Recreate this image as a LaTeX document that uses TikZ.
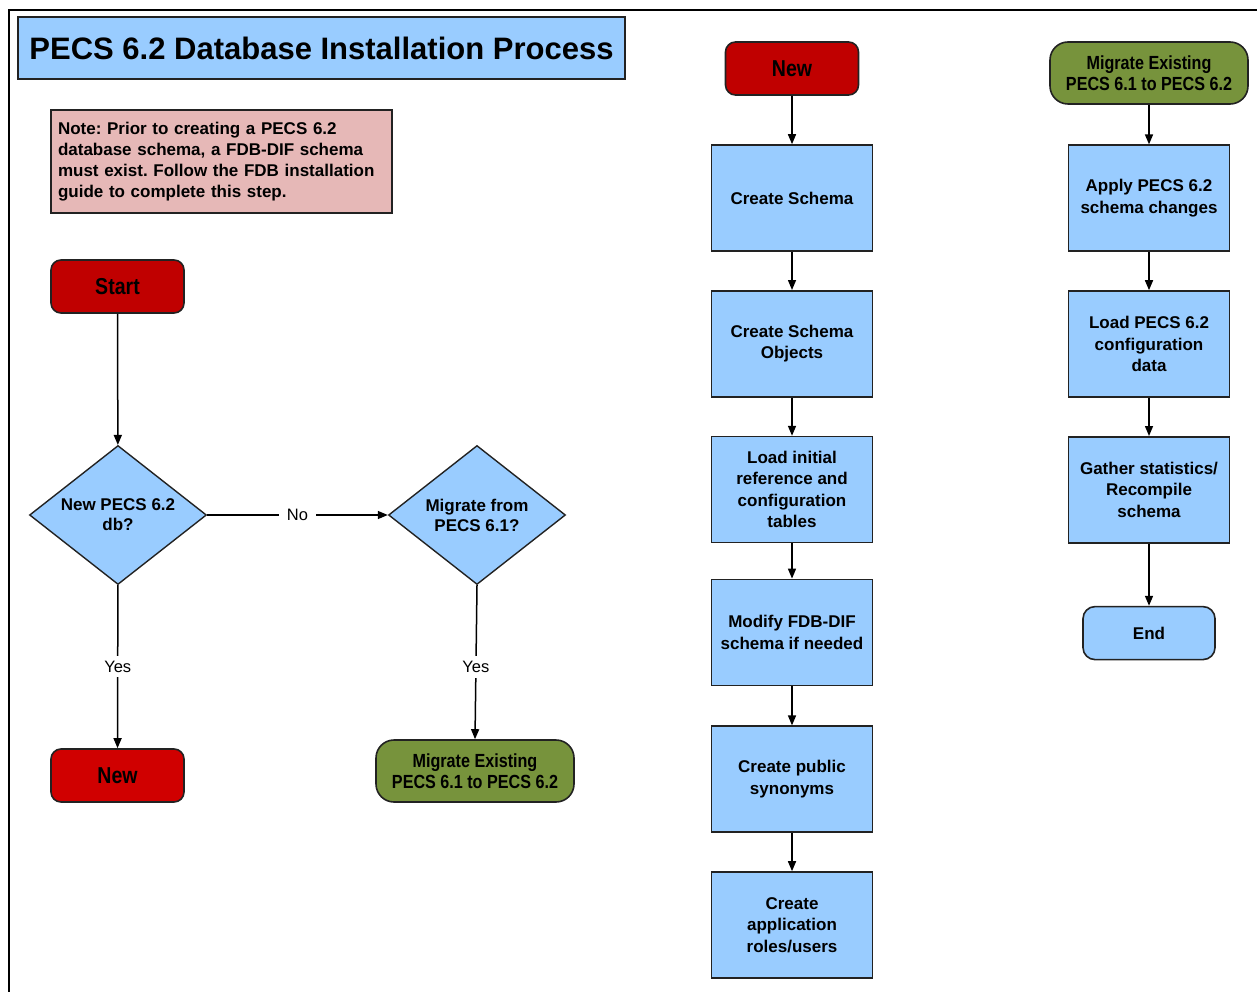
\documentclass[tikz,border=0pt]{standalone}
\usepackage{fontspec}
\setmainfont{Liberation Sans}
\newfontfamily\narrowfont[FakeStretch=0.85]{Liberation Sans}
\usetikzlibrary{positioning,shapes.geometric,arrows.meta}
\definecolor{boxblue}{RGB}{153,204,255}
\definecolor{notepink}{RGB}{230,184,183}
\definecolor{startred}{RGB}{192,0,0}
\definecolor{newred}{RGB}{208,0,0}
\definecolor{migreen}{RGB}{119,147,60}
\definecolor{edgegray}{RGB}{34,34,34}
\frenchspacing

\begin{document}
\begin{tikzpicture}[x=1pt,y=-1pt,
  stepbox/.style={draw=edgegray, line width=1.6pt, fill=boxblue, minimum width=161pt,
    minimum height=106pt, align=center, inner sep=4pt,
    font=\fontsize{17}{21.5}\selectfont\bfseries},
  redterm/.style={draw=edgegray, line width=1.6pt, fill=#1, rounded corners=10pt,
    minimum width=133pt, minimum height=53pt,
    font=\narrowfont\fontsize{23}{26}\selectfont\bfseries},
  greenterm/.style={draw=edgegray, line width=1.6pt, fill=migreen, rounded corners=18pt,
    minimum width=198pt, minimum height=62pt, align=center, inner sep=2pt,
    font=\narrowfont\fontsize{19}{21}\selectfont\bfseries},
  endterm/.style={draw=edgegray, line width=1.6pt, fill=boxblue, rounded corners=12pt,
    minimum width=132pt, minimum height=53pt,
    font=\fontsize{17}{21.5}\selectfont\bfseries},
  decision/.style={diamond, draw=edgegray, line width=1.4pt, fill=boxblue, aspect=1.27,
    minimum width=177pt, minimum height=139pt, inner sep=0pt, align=center,
    font=\fontsize{17}{20}\selectfont\bfseries},
  flow/.style={draw=black, line width=1.5pt, -{Triangle[length=10pt,width=8pt]}},
  lbl/.style={fill=white, inner xsep=8pt, inner ysep=5pt,
    font=\fontsize{16.5}{18}\selectfont}]

  \useasboundingbox (0,0) rectangle (1257,992);
  \draw[line width=2pt] (9,992) -- (9,10) -- (1257,10);

  \node[draw=edgegray, line width=1.6pt, fill=boxblue, minimum width=607pt, minimum height=62pt,
    font=\fontsize{31}{34}\selectfont\bfseries] (title) at (321.5,48)
    {PECS 6.2 Database Installation Process};
  \node[draw=edgegray, line width=1.6pt, fill=notepink, text width=327pt, inner xsep=7pt,
    minimum height=103pt, align=left, font=\fontsize{17}{21}\selectfont\bfseries]
    (note) at (221.5,161.5)
    {Note: Prior to creating a PECS 6.2\\database schema, a FDB-DIF schema\\must exist. Follow the FDB installation\\guide to complete this step.};

  % decision part
  \node[redterm=startred] (start) at (117.5,286.5) {Start};
  \node[decision] (isnew) at (118,515) {New PECS 6.2\\db?};
  \node[decision] (ismigrate) at (477,515) {Migrate from\\PECS 6.1?};
  \node[redterm=newred] (newend) at (117.5,775.5) {New};
  \node[greenterm] (migend) at (475,771) {Migrate Existing\\PECS 6.1 to PECS 6.2};

  \draw[flow] (start) -- (isnew);
  \draw[flow] (isnew) -- node[lbl] {No} (ismigrate);
  \draw[flow] (isnew) -- node[lbl] {Yes} (newend);
  \draw[flow] (ismigrate.south) -- node[lbl, pos=0.53] {Yes} (migend.north);

  % new schema
  \node[redterm=startred] (new) at (792,68.5) {New};
  \node[stepbox, below=48.4pt of new] (cschema) {Create Schema};
  \node[stepbox, below=38.2pt of cschema] (cobjects) {Create Schema\\Objects};
  \node[stepbox, below=38.2pt of cobjects] (loadref) {Load initial\\reference and\\configuration\\tables};
  \node[stepbox, below=35.2pt of loadref] (modfdb) {Modify FDB-DIF\\schema if needed};
  \node[stepbox, below=39.2pt of modfdb] (synonyms) {Create public\\synonyms};
  \node[stepbox, below=38.2pt of synonyms] (roles) {Create\\application\\roles/users};

  \draw[flow] (new) -- (cschema);
  \draw[flow] (cschema) -- (cobjects);
  \draw[flow] (cobjects) -- (loadref);
  \draw[flow] (loadref) -- (modfdb);
  \draw[flow] (modfdb) -- (synonyms);
  \draw[flow] (synonyms) -- (roles);

  % migration
  \node[greenterm] (migrate) at (1149,73) {Migrate Existing\\PECS 6.1 to PECS 6.2};
  \node[stepbox, below=39.6pt of migrate] (applychg) {Apply PECS 6.2\\schema changes};
  \node[stepbox, below=38.2pt of applychg] (loadcfg) {Load PECS 6.2\\configuration\\data};
  \node[stepbox, below=38.2pt of loadcfg] (gather) {Gather statistics/\\Recompile\\schema};
  \node[endterm, below=62.2pt of gather] (finish) {End};

  \draw[flow] (migrate) -- (applychg);
  \draw[flow] (applychg) -- (loadcfg);
  \draw[flow] (loadcfg) -- (gather);
  \draw[flow] (gather) -- (finish);
\end{tikzpicture}
\end{document}
